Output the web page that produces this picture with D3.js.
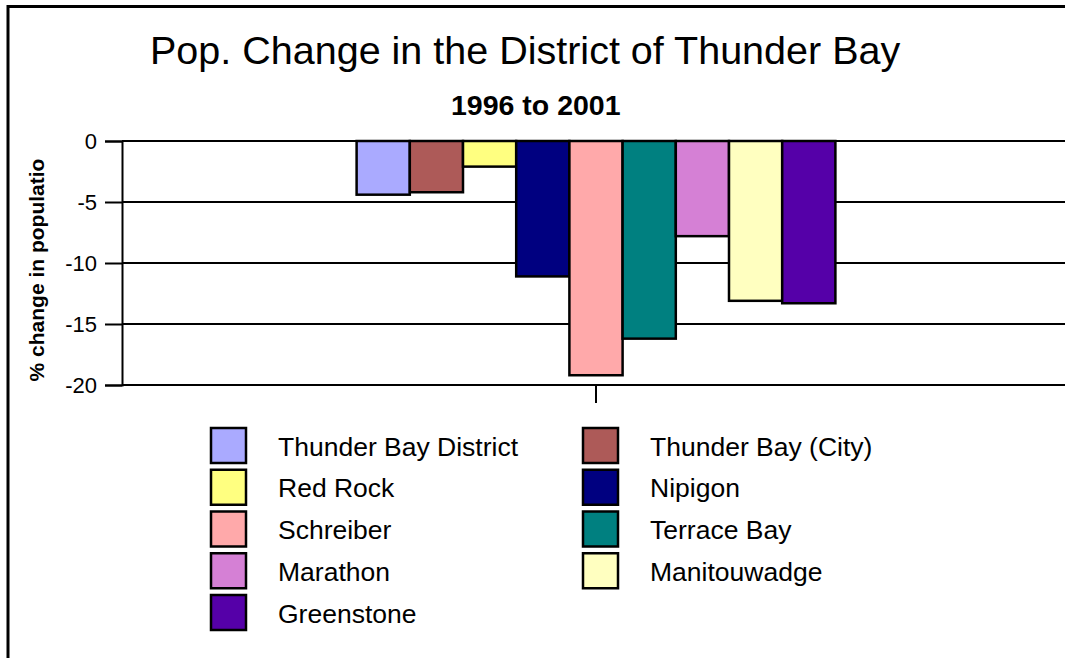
<!DOCTYPE html>
<html>
<head>
<meta charset="utf-8">
<script src="https://cdn.jsdelivr.net/npm/d3@7"></script>
<style>
body {margin:0; background:#fff}
svg {display:block; font-family:"Liberation Sans", Arial, sans-serif}
</style>
</head>
<body>
<svg id="chart" width="1065" height="658"></svg>
<script>

var places = ["Thunder Bay District","Thunder Bay (City)","Red Rock","Nipigon","Schreiber","Terrace Bay","Marathon","Manitouwadge","Greenstone"]
var changes = [-4.4,-4.2,-2.1,-11.1,-19.2,-16.2,-7.8,-13.1,-13.3]
var colors = ["#AAAAFF","#AD5A58","#FFFF80","#000080","#FFA9AA","#008080","#D580D5","#FFFFC0","#5500A8"]
var categories = ["1996 to 2001"]
var yTicks = [0,-5,-10,-15,-20]

function loadChart() {

    var svg = d3.select("#chart")

    var x0 = d3.scaleBand().domain(categories).range([122,1070]).padding(0)
    var gap = 0.98
    var groupW = x0.bandwidth()/(1+gap)
    var x1 = d3.scaleBand().domain(places)
        .range([x0.bandwidth()/2 - groupW/2, x0.bandwidth()/2 + groupW/2]).padding(0)
    var y = d3.scaleLinear().domain([-20,0]).range([385,141])

    // gridlines + ticks
    var yAxis = d3.axisLeft(y).tickValues(yTicks).tickSize(17).tickPadding(8).tickFormat(function(d) {return String(d)})
    var ga = svg.append("g").attr("transform","translate(122,0)").call(yAxis)
    ga.select(".domain").attr("stroke","#000").attr("stroke-width",2)
    ga.selectAll(".tick line").attr("stroke","#000").attr("stroke-width",2)
    ga.selectAll(".tick text").style("font-size","22px").style("font-family","'Liberation Sans', Arial, sans-serif").attr("fill","#000")

    svg.append("g").selectAll("line.grid").data(yTicks).enter().append("line")
        .attr("class","grid")
        .attr("x1",122).attr("x2",1065)
        .attr("y1",function(d) {return y(d)}).attr("y2",function(d) {return y(d)})
        .attr("stroke","#000").attr("stroke-width",2)

    var xAxis = d3.axisBottom(x0).tickSize(18).tickFormat("")
    var gx = svg.append("g").attr("transform","translate(0,385)").call(xAxis)
    gx.select(".domain").remove()
    gx.selectAll(".tick line").attr("stroke","#000").attr("stroke-width",2)

    var groups = svg.append("g").selectAll("g.cat").data(categories).enter().append("g")
        .attr("class","cat")
        .attr("transform",function(d) {return "translate(" + x0(d) + ",0)"})

    groups.selectAll("rect").data(places.map(function(p,i) {return {name:p, value:changes[i], color:colors[i]}}))
        .enter().append("rect")
        .attr("x",function(d) {return x1(d.name)})
        .attr("width",x1.bandwidth())
        .attr("y",y(0))
        .attr("height",function(d) {return y(d.value) - y(0)})
        .attr("fill",function(d) {return d.color})
        .attr("stroke","#000").attr("stroke-width",2.5)

    // frame (only top and left show)
    svg.append("line").attr("x1",8).attr("x2",1065).attr("y1",6.5).attr("y2",6.5).attr("stroke","#000").attr("stroke-width",3)
    svg.append("line").attr("x1",8).attr("x2",8).attr("y1",5).attr("y2",658).attr("stroke","#000").attr("stroke-width",3)

    svg.append("text").attr("x",150).attr("y",64).style("font-size","39.5px").text("Pop. Change in the District of Thunder Bay")
    svg.append("text").attr("x",451).attr("y",115).style("font-size","28.5px").style("font-weight","bold").text("1996 to 2001")

    svg.append("text")
        .attr("transform","translate(44,270) rotate(-90)")
        .attr("text-anchor","middle")
        .style("font-size","21px").style("font-weight","bold")
        .text("% change in populatio")

    // legend, two columns
    var legend = svg.append("g").selectAll("g.leg").data(places).enter().append("g")
        .attr("class","leg")
        .attr("transform",function(d,i) {
            return "translate(" + (i%2==0 ? 211 : 583) + "," + (428 + Math.floor(i/2)*41.75) + ")"
        })

    legend.append("rect").attr("width",35).attr("height",35)
        .attr("fill",function(d,i) {return colors[i]})
        .attr("stroke","#000").attr("stroke-width",2.5)

    legend.append("text").attr("x",67).attr("y",27.5).style("font-size","26.5px")
        .text(function(d) {return d})
}

loadChart()
</script>
</body>
</html>
